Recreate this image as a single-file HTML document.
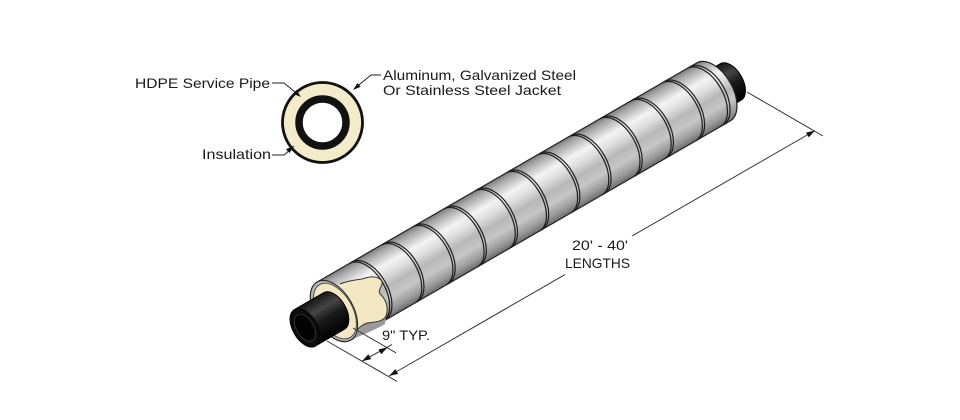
<!DOCTYPE html>
<html><head><meta charset="utf-8">
<style>
html,body{margin:0;padding:0;background:#fff;}
svg{display:block;}
text{font-family:"Liberation Sans",Arial,sans-serif;fill:#1a1a1a;font-size:14px;}
</style></head>
<body>
<svg width="960" height="420" viewBox="0 0 960 420" xmlns="http://www.w3.org/2000/svg">
<defs>
<linearGradient id="jk" gradientUnits="userSpaceOnUse" x1="0" y1="-33.5" x2="0" y2="33.5">
 <stop offset="0" stop-color="#7c7c7c"/>
 <stop offset="0.08" stop-color="#a8a8a8"/>
 <stop offset="0.28" stop-color="#f4f4f4"/>
 <stop offset="0.42" stop-color="#dedede"/>
 <stop offset="0.58" stop-color="#b8b8b8"/>
 <stop offset="0.74" stop-color="#c6c6c6"/>
 <stop offset="0.9" stop-color="#999"/>
 <stop offset="1" stop-color="#6c6c6c"/>
</linearGradient>
<linearGradient id="bp" gradientUnits="userSpaceOnUse" x1="0" y1="-21" x2="0" y2="21">
 <stop offset="0" stop-color="#161616"/>
 <stop offset="0.3" stop-color="#454545"/>
 <stop offset="0.55" stop-color="#1a1a1a"/>
 <stop offset="1" stop-color="#000"/>
</linearGradient>
</defs>

<!-- Cross-section -->
<circle cx="322.5" cy="122.5" r="40" fill="#f4ebca" stroke="#111" stroke-width="2.8"/>
<circle cx="322.5" cy="122.5" r="23.5" fill="#fff" stroke="#111" stroke-width="7.5"/>

<!-- leaders -->
<g stroke="#222" stroke-width="1" fill="none">
 <polyline points="272,83 284,83 298,94.5"/>
 <polyline points="272,155 284,155 291,149"/>
 <polyline points="381,75 371,75 357,86.5"/>
</g>
<g fill="#111">
 <polygon points="301,97 293.2,93.8 296.4,90"/>
 <polygon points="294.5,145.5 289.5,153 286,149.2"/>
 <polygon points="353,90 357.5,83 360.7,86.8"/>
</g>

<text x="135" y="88" textLength="135" lengthAdjust="spacingAndGlyphs">HDPE Service Pipe</text>
<text x="202" y="159" textLength="69" lengthAdjust="spacingAndGlyphs">Insulation</text>
<text x="383" y="80" textLength="193" lengthAdjust="spacingAndGlyphs">Aluminum, Galvanized Steel</text>
<text x="383" y="95" textLength="178" lengthAdjust="spacingAndGlyphs">Or Stainless Steel Jacket</text>

<!-- Pipe assembly -->
<g transform="translate(334,311) rotate(-30)">
 <path d="M430,-21 L458,-21 A12.1,21 0 0 1 458,21 L430,21 Z" fill="url(#bp)" stroke="#000" stroke-width="1"/>
 <path d="M0,-33.5 L438,-33.5 A19.3,33.5 0 0 1 438,33.5 L0,33.5 A19.3,33.5 0 0 1 0,-33.5 Z" fill="url(#jk)" stroke="#222" stroke-width="1.2"/>
 <g fill="none" stroke="#1e1e1e" stroke-width="1.2">
  <path d="M37,-33.5 A19.3,33.5 0 0 1 37,33.5"/><path d="M39.6,-33.5 A19.3,33.5 0 0 1 39.6,33.5"/>
  <path d="M74,-33.5 A19.3,33.5 0 0 1 74,33.5"/><path d="M76.6,-33.5 A19.3,33.5 0 0 1 76.6,33.5"/>
  <path d="M110,-33.5 A19.3,33.5 0 0 1 110,33.5"/><path d="M112.6,-33.5 A19.3,33.5 0 0 1 112.6,33.5"/>
  <path d="M146,-33.5 A19.3,33.5 0 0 1 146,33.5"/><path d="M148.6,-33.5 A19.3,33.5 0 0 1 148.6,33.5"/>
  <path d="M182,-33.5 A19.3,33.5 0 0 1 182,33.5"/><path d="M184.6,-33.5 A19.3,33.5 0 0 1 184.6,33.5"/>
  <path d="M218,-33.5 A19.3,33.5 0 0 1 218,33.5"/><path d="M220.6,-33.5 A19.3,33.5 0 0 1 220.6,33.5"/>
  <path d="M254,-33.5 A19.3,33.5 0 0 1 254,33.5"/><path d="M256.6,-33.5 A19.3,33.5 0 0 1 256.6,33.5"/>
  <path d="M290,-33.5 A19.3,33.5 0 0 1 290,33.5"/><path d="M292.6,-33.5 A19.3,33.5 0 0 1 292.6,33.5"/>
  <path d="M326,-33.5 A19.3,33.5 0 0 1 326,33.5"/><path d="M328.6,-33.5 A19.3,33.5 0 0 1 328.6,33.5"/>
  <path d="M362,-33.5 A19.3,33.5 0 0 1 362,33.5"/><path d="M364.6,-33.5 A19.3,33.5 0 0 1 364.6,33.5"/>
  <path d="M398,-33.5 A19.3,33.5 0 0 1 398,33.5"/><path d="M400.6,-33.5 A19.3,33.5 0 0 1 400.6,33.5"/>
  <path d="M427,-33.5 A19.3,33.5 0 0 1 427,33.5"/><path d="M430,-33.5 A19.3,33.5 0 0 1 430,33.5"/>
 </g>
</g>

<!-- cutaway insulation -->
<path d="M350,334 C360,326 372,324 386,317 L385,324 C375,330 362,335 353,339 Z" fill="#9a9a9a"/>
<path d="M333,287 C345,282 352,280 362,279 C368,277 376,275 381,280 C385,285 377,289 380,294 C386,299 389,308 386,316 C383,322 374,322 367,323 C361,325 357,330 351,335 L338,322 Z" fill="#f3e8c3"/>
<path d="M340,284 C347,281 354,280 362,279 C368,277 376,275 381,280 C385,285 377,289 380,294 C386,299 389,308 386,316 C383,322 374,322 367,323 C361,325 357,330 351,335" fill="none" stroke="#333" stroke-width="1"/>

<g transform="translate(334,311) rotate(-30)">
 <ellipse cx="0" cy="0" rx="19.3" ry="33.5" fill="#b4b4b4" stroke="#222" stroke-width="1"/>
 <ellipse cx="0.8" cy="0.5" rx="17.4" ry="30.5" fill="#f3e8c3" stroke="#444" stroke-width="0.9"/>
 <path d="M0,-21 L-33.5,-21 A12.1,21 0 0 0 -33.5,21 L0,21 A12.1,21 0 0 0 0,-21 Z" fill="url(#bp)" stroke="#000" stroke-width="1"/>
 <ellipse cx="-33.5" cy="0" rx="12.1" ry="21" fill="#0c0c0c" stroke="#000" stroke-width="1"/>
 <ellipse cx="-33.5" cy="0" rx="8.6" ry="15" fill="#030303" stroke="#3a3a3a" stroke-width="0.8"/>
</g>

<!-- dimensions -->
<g stroke="#333" stroke-width="1" fill="none">
 <line x1="327" y1="341" x2="397" y2="381.4"/>
 <line x1="353" y1="328" x2="396" y2="352.8"/>
 <line x1="747" y1="92" x2="823" y2="136"/>
 <line x1="389" y1="376" x2="565" y2="274.6"/>
 <line x1="632" y1="236" x2="815" y2="130.5"/>
 <line x1="362" y1="361.2" x2="392" y2="344.6"/>
</g>
<g fill="#111">
 <polygon points="389,376 398.2,373.9 395.4,369.1"/>
 <polygon points="815,130.5 808.8,137.4 806,132.6"/>
 <polygon points="362,361.2 371.2,359.1 368.4,354.3"/>
 <polygon points="387.5,347.3 381.3,354.2 378.5,349.4"/>
</g>

<text x="572" y="250" textLength="56" lengthAdjust="spacingAndGlyphs">20' - 40'</text>
<text x="565" y="268" textLength="65" lengthAdjust="spacingAndGlyphs">LENGTHS</text>
<text x="382" y="340" textLength="48" lengthAdjust="spacingAndGlyphs">9" TYP.</text>
</svg>
</body></html>
